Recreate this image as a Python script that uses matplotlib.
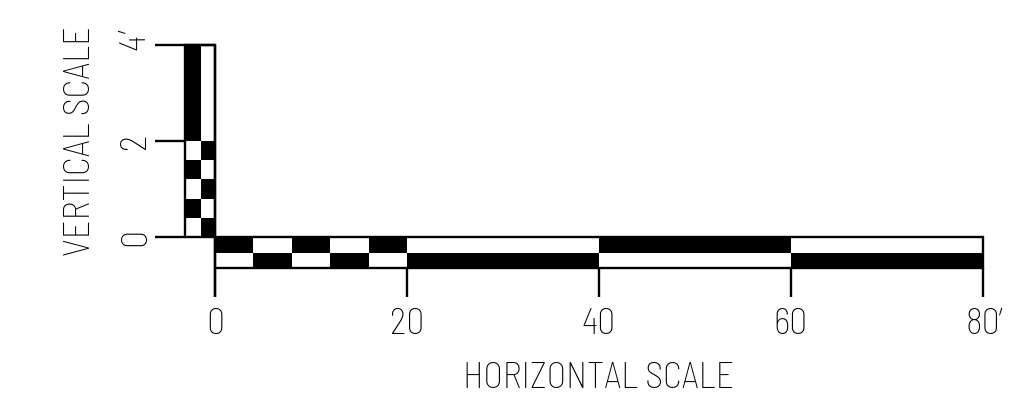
import matplotlib
matplotlib.use("Agg")
import matplotlib.pyplot as plt
from matplotlib.patches import Rectangle

# ---- data ----
h_fine_edges = [0, 4, 8, 12, 16, 20]
h_coarse_edges = [20, 40, 60, 80]
h_ticks = [0, 20, 40, 60, 80]
h_tick_labels = ["0", "20", "40", "60", "80"]
v_fine_edges = [0, 0.4, 0.8, 1.2, 1.6, 2.0]
v_coarse_edges = [2, 4]
v_ticks = [0, 2, 4]
v_tick_labels = ["0", "2", "4"]
unit_mark = "\u2032"
h_title = "HORIZONTAL SCALE"
v_title = "VERTICAL SCALE"

W, H = 1014, 401
fig = plt.figure(figsize=(W / 100, H / 100), dpi=100)
ax = fig.add_axes([0, 0, 1, 1])
ax.set_xlim(-215 / 9.6, (W - 215) / 9.6)
ax.set_ylim(-164 / 48, (H - 164) / 48)
ax.axis("off")

fam = ["Barlow Semi Condensed", "DejaVu Sans"]
fw = "light"
fs = 26
lw = 1.7
bar_h = 0.65
v_w = 3.125
v_mid = -1.5

# horizontal bar
rows = [(0, -bar_h / 2), (-bar_h / 2, -bar_h)]
for edges, start_black in ((h_fine_edges, True), (h_coarse_edges, False)):
    for i in range(len(edges) - 1):
        x0, x1 = edges[i], edges[i + 1]
        top_black = (i % 2 == 0) == start_black
        for r, (ya, yb) in enumerate(rows):
            black = top_black if r == 0 else not top_black
            ax.add_patch(Rectangle((x0, yb), x1 - x0, ya - yb,
                                   facecolor="black" if black else "white",
                                   edgecolor="none"))
ax.add_patch(Rectangle((h_ticks[0], -bar_h), h_ticks[-1] - h_ticks[0], bar_h,
                       facecolor="none", edgecolor="black", lw=lw))

# vertical bar
cols = [(-v_w, v_mid), (v_mid, 0)]
for i in range(len(v_fine_edges) - 1):
    y0, y1 = v_fine_edges[i], v_fine_edges[i + 1]
    left_black = (i % 2 == 1)
    for c, (xa, xb) in enumerate(cols):
        black = left_black if c == 0 else not left_black
        ax.add_patch(Rectangle((xa, y0), xb - xa, y1 - y0,
                               facecolor="black" if black else "white",
                               edgecolor="none"))
ax.add_patch(Rectangle((cols[0][0], v_coarse_edges[0]), cols[0][1] - cols[0][0],
                       v_coarse_edges[1] - v_coarse_edges[0],
                       facecolor="black", edgecolor="none"))
ax.add_patch(Rectangle((-v_w, v_ticks[0]), v_w, v_ticks[-1] - v_ticks[0],
                       facecolor="none", edgecolor="black", lw=lw))

# ticks
for y in v_ticks:
    ax.plot([-6.25, -v_w], [y, y], color="black", lw=lw, solid_capstyle="butt")
ax.plot([-v_w, 0], [v_ticks[-1]] * 2, color="black", lw=lw, solid_capstyle="butt")
for x in h_ticks:
    ax.plot([x, x], [-bar_h, -1.25], color="black", lw=lw, solid_capstyle="butt")
ax.plot([0, 0], [v_ticks[-1], -1.25], color="black", lw=lw, solid_capstyle="butt")

# labels
txt = dict(fontsize=fs, family=fam, weight=fw, color="black")
for x, lab in zip(h_ticks, h_tick_labels):
    ax.text(x, -2.02, lab, ha="center", va="baseline", **txt)
ax.text(81.7, -2.02, unit_mark, ha="left", va="baseline", **txt)

for y, lab in zip(v_ticks, v_tick_labels):
    yy = y + (0.07 if y == v_ticks[-1] else 0)
    ax.text(-7.3, yy, lab, ha="center", va="baseline", rotation=90,
            rotation_mode="anchor", **txt)
ax.text(-7.3, 4.24, unit_mark, ha="left", va="baseline", rotation=90,
        rotation_mode="anchor", **txt)

ax.text(40, -3.146, h_title, ha="center", va="baseline", **txt)
ax.text(-13.02, 2, v_title, ha="center", va="baseline", rotation=90,
        rotation_mode="anchor", **txt)

fig.savefig("out.png", dpi=100)
